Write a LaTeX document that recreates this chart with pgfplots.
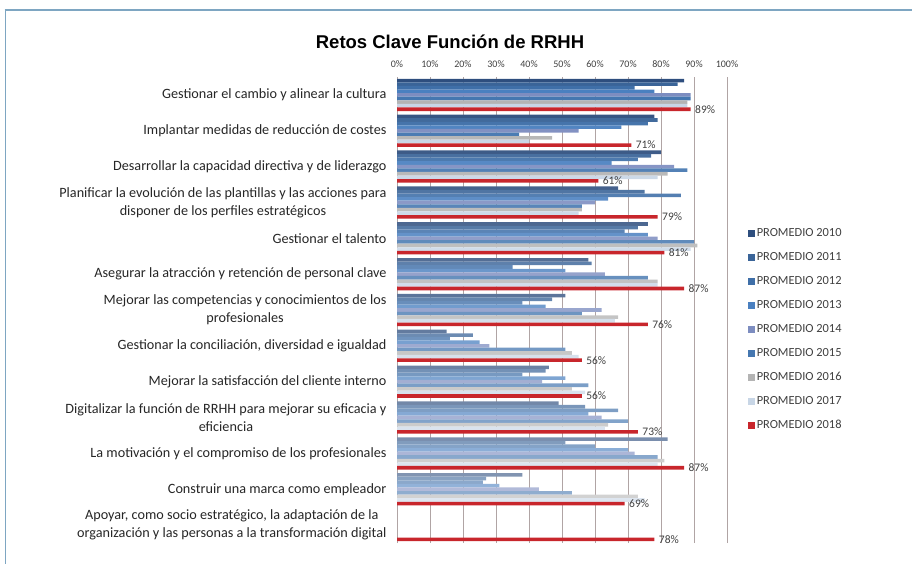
\documentclass[border=0pt]{standalone}
\usepackage{pgfplots}
\pgfplotsset{compat=1.18}
\usepackage{pgfplotstable}
\usepackage{fontspec}
\setmainfont{Carlito}
\newfontfamily\titlefont{Liberation Sans}

\definecolor{c2010}{HTML}{2E4E7E}
\definecolor{c2011}{HTML}{3A6498}
\definecolor{c2012}{HTML}{3F6FA8}
\definecolor{c2013}{HTML}{4A80C0}
\definecolor{c2014}{HTML}{7D8DC0}
\definecolor{c2015}{HTML}{4577B0}
\definecolor{c2016}{HTML}{B4B4B4}
\definecolor{c2017}{HTML}{C8D6E6}
\definecolor{c2018}{HTML}{C8262C}
\definecolor{gridc}{HTML}{B0A4A4}
\definecolor{framec}{HTML}{7EA6C2}
\definecolor{labc}{HTML}{404040}

% share of respondents per challenge and year (pos 12 = top row)
\pgfplotstableread{
pos a2010 a2011 a2012 a2013 a2014 a2015 a2016 a2017 a2018
12  87  85  72  78  89  89  88  88  89
11  78  79  76  68  55  37  47  40  71
10  80  77  73  65  84  88  82  79  61
9   67  75  86  64  60  56  56  55  79
8   76  73  69  76  79  90  91  89  81
7   58  59  35  51  63  76  79  79  87
6   51  47  38  45  62  56  67  66  76
5   15  23  16  25  28  51  53  55  56
4   46  45  38  51  44  58  53  57  56
3   49  57  67  58  62  70  64  63  73
2   82  51  60  70  72  79  81  79  87
1   38  27  26  31  43  53  73  75  69
0   nan nan nan nan nan nan nan nan 78
}\retos

\begin{document}
\begin{tikzpicture}
\useasboundingbox (0pt,0pt) rectangle (912pt,-564pt);
\draw[framec, line width=1pt] (5pt,-564pt) -- (5pt,-10pt);
\draw[framec, line width=2pt] (4.5pt,-10pt) -- (912pt,-10pt);
\node[font=\titlefont\bfseries\fontsize{18.5}{22}\selectfont] at (450pt,-42pt) {Retos Clave Función de RRHH};

\begin{axis}[
  at={(397pt,-77pt)}, anchor=north west,
  scale only axis, width=330pt, height=466pt,
  xmin=0, xmax=100, ymin=-0.5, ymax=12.5,
  xbar, bar width=0.1,
  /pgf/number format/assume math mode=true,
  axis x line*=top, axis y line*=left,
  x axis line style={draw=none},
  y axis line style={draw=gridc, line width=0.8pt},
  xtick={0,10,...,100},
  xticklabel={\pgfmathprintnumber{\tick}\%},
  xticklabel style={font=\fontsize{10}{11}\selectfont, text=labc, yshift=6pt},
  major tick length=0pt,
  xmajorgrids, grid style={draw=gridc, line width=0.8pt},
  ytick={0,...,12},
  yticklabels={
    {Apoyar, como socio estratégico, la adaptación de la\\organización y las personas a la transformación digital},
    {Construir una marca como empleador},
    {La motivación y el compromiso de los profesionales},
    {Digitalizar la función de RRHH para mejorar su eficacia y\\eficiencia},
    {Mejorar la satisfacción del cliente interno},
    {Gestionar la conciliación, diversidad e igualdad},
    {Mejorar las competencias y conocimientos de los\\profesionales},
    {Asegurar la atracción y retención de personal clave},
    {Gestionar el talento},
    {Planificar la evolución de las plantillas y las acciones para\\disponer de los perfiles estratégicos},
    {Desarrollar la capacidad directiva y de liderazgo},
    {Implantar medidas de reducción de costes},
    {Gestionar el cambio y alinear la cultura}},
  yticklabel style={font=\fontsize{14.2}{18}\selectfont, align=center, text=black!85, xshift=-7pt},
  legend style={at={(axis description cs:1.055,0.683)}, anchor=north west,
    draw=none, fill=none, font=\fontsize{12.4}{14}\selectfont, text=labc,
    row sep=10.3pt, legend cell align=left},
  clip=false,
]
\addplot[forget plot, draw=none, top color=c2010, bottom color=c2010!60!white, bar shift=0.4]
  table[x=a2010, y=pos] {\retos};
\addplot[forget plot, draw=none, top color=c2011, bottom color=c2011!60!white, bar shift=0.3]
  table[x=a2011, y=pos] {\retos};
\addplot[forget plot, draw=none, top color=c2012, bottom color=c2012!60!white, bar shift=0.2]
  table[x=a2012, y=pos] {\retos};
\addplot[forget plot, draw=none, top color=c2013, bottom color=c2013!60!white, bar shift=0.1]
  table[x=a2013, y=pos] {\retos};
\addplot[forget plot, draw=none, top color=c2014, bottom color=c2014!60!white, bar shift=0]
  table[x=a2014, y=pos] {\retos};
\addplot[forget plot, draw=none, top color=c2015, bottom color=c2015!60!white, bar shift=-0.1]
  table[x=a2015, y=pos] {\retos};
\addplot[forget plot, draw=none, top color=c2016, bottom color=c2016!60!white, bar shift=-0.2]
  table[x=a2016, y=pos] {\retos};
\addplot[forget plot, draw=none, top color=c2017, bottom color=c2017!60!white, bar shift=-0.3]
  table[x=a2017, y=pos] {\retos};
\addplot[forget plot, draw=none, fill=c2018, bar shift=-0.4,
  point meta=x, nodes near coords={\pgfmathprintnumber{\pgfplotspointmeta}\%},
  every node near coord/.append style={font=\fontsize{11.5}{12}\selectfont, text=labc, anchor=west, xshift=1pt}]
  table[x=a2018, y=pos] {\retos};

\addlegendimage{legend image code/.code={\fill[c2010] (0pt,-3pt) rectangle (6pt,3pt);}}
\addlegendentry{PROMEDIO 2010}
\addlegendimage{legend image code/.code={\fill[c2011] (0pt,-3pt) rectangle (6pt,3pt);}}
\addlegendentry{PROMEDIO 2011}
\addlegendimage{legend image code/.code={\fill[c2012] (0pt,-3pt) rectangle (6pt,3pt);}}
\addlegendentry{PROMEDIO 2012}
\addlegendimage{legend image code/.code={\fill[c2013] (0pt,-3pt) rectangle (6pt,3pt);}}
\addlegendentry{PROMEDIO 2013}
\addlegendimage{legend image code/.code={\fill[c2014] (0pt,-3pt) rectangle (6pt,3pt);}}
\addlegendentry{PROMEDIO 2014}
\addlegendimage{legend image code/.code={\fill[c2015] (0pt,-3pt) rectangle (6pt,3pt);}}
\addlegendentry{PROMEDIO 2015}
\addlegendimage{legend image code/.code={\fill[c2016] (0pt,-3pt) rectangle (6pt,3pt);}}
\addlegendentry{PROMEDIO 2016}
\addlegendimage{legend image code/.code={\fill[c2017] (0pt,-3pt) rectangle (6pt,3pt);}}
\addlegendentry{PROMEDIO 2017}
\addlegendimage{legend image code/.code={\fill[c2018] (0pt,-3pt) rectangle (6pt,3pt);}}
\addlegendentry{PROMEDIO 2018}
\end{axis}
\end{tikzpicture}
\end{document}
